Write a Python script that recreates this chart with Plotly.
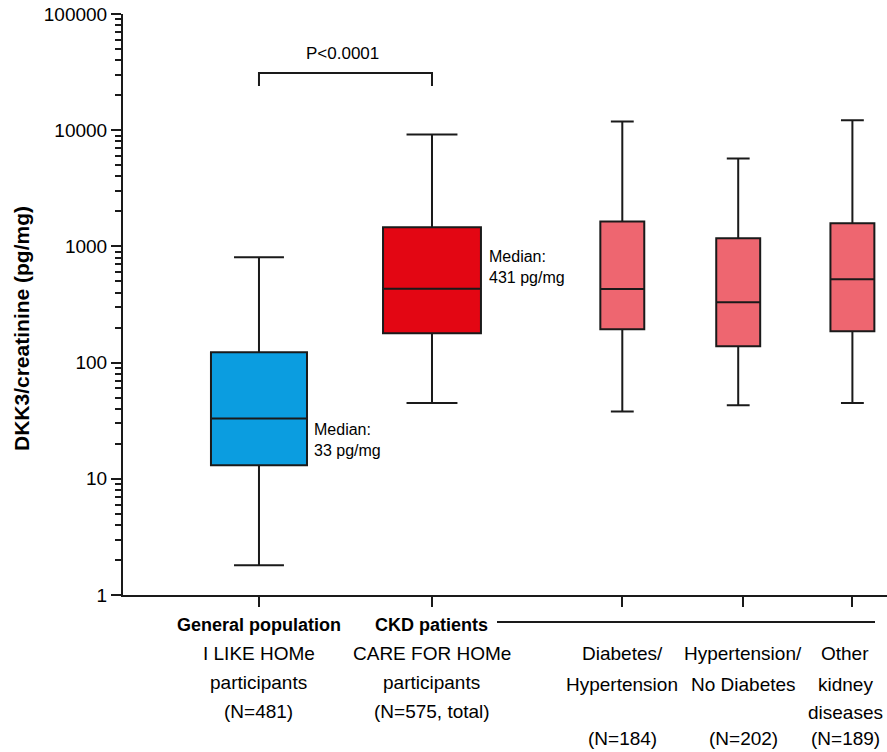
import math
import plotly.graph_objects as go

# ---- data ----
groups = ["General population", "CKD patients", "Diabetes/Hypertension",
          "Hypertension/No Diabetes", "Other kidney diseases"]
positions = [1.0, 2.0, 3.10, 3.77, 4.43]
tick_positions = [1.0, 2.0, 3.10, 3.80, 4.43]
label_positions = [1.0, 2.0, 3.10, 3.80, 4.39]
lower_whisker = [1.8, 45, 38, 43, 45]
q1 = [13.1, 179, 194, 138, 186]
median = [33, 431, 430, 331, 521]
q3 = [123, 1460, 1640, 1175, 1580]
upper_whisker = [806, 9200, 11900, 5720, 12150]
colors = ["#0b9de0", "#e30613", "#ee6670", "#ee6670", "#ee6670"]
box_widths = [0.555, 0.566, 0.254, 0.254, 0.254]

y_tickvals = [1, 10, 100, 1000, 10000, 100000]
y_ticktext = ["1", "10", "100", "1000", "10000", "100000"]
minor_vals = [m * 10 ** e for e in range(5) for m in range(2, 10)]

left_labels = [
    ["<b>General population</b>", "I LIKE HOMe", "participants", "(N=481)"],
    ["<b>CKD patients</b>", "CARE FOR HOMe", "participants", "(N=575, total)"],
]
right_labels = [
    ["Diabetes/", "Hypertension", "", "(N=184)"],
    ["Hypertension/", "No Diabetes", "", "(N=202)"],
    ["Other", "kidney", "diseases", "(N=189)"],
]
p_text = "P<0.0001"
bracket_top = 31000
bracket_bottom = 24000
y_title = "DKK3/creatinine (pg/mg)"

# ---- layout constants ----
W, H = 887, 752
M_L, M_R, M_T, M_B = 123, 0, 14, 157
PLOT_H = H - M_T - M_B
FONT = "Liberation Sans, Arial, Helvetica, sans-serif"
INK = "#1a1a1a"


def ypaper(py):
    return (H - M_B - py) / PLOT_H


def xpaper(px):
    return (px - M_L) / (W - M_L - M_R)


fig = go.Figure()

for i in range(len(groups)):
    fig.add_trace(go.Box(
        x=[positions[i]], q1=[q1[i]], median=[median[i]], q3=[q3[i]],
        lowerfence=[lower_whisker[i]], upperfence=[upper_whisker[i]],
        orientation="v", width=box_widths[i], whiskerwidth=0.52,
        fillcolor=colors[i], line=dict(color=INK, width=2),
        boxpoints=False, showlegend=False, hoverinfo="skip", name=groups[i]))

# significance bracket
fig.add_trace(go.Scatter(
    x=[positions[0], positions[0], positions[1], positions[1]],
    y=[bracket_bottom, bracket_top, bracket_top, bracket_bottom],
    mode="lines", line=dict(color=INK, width=2), showlegend=False,
    hoverinfo="skip", cliponaxis=False))

annotations = []
annotations.append(dict(
    x=(positions[0] + positions[1]) / 2 - 0.02, y=math.log10(bracket_top),
    xref="x", yref="y", text=p_text, showarrow=False, yanchor="bottom",
    yshift=8, font=dict(family=FONT, size=17, color="black")))

# median labels
annotations.append(dict(
    x=positions[0] + 0.305, y=math.log10(median[0]), xref="x", yref="y",
    text=f"Median:<br>{median[0]} pg/mg", showarrow=False, xanchor="left",
    yanchor="top", align="left", font=dict(family=FONT, size=16, color="black")))
annotations.append(dict(
    x=positions[1] + 0.318, y=math.log10(median[1]), xref="x", yref="y",
    text=f"Median:<br>{median[1]} pg/mg", showarrow=False, xanchor="left",
    yanchor="bottom", yshift=1, align="left",
    font=dict(family=FONT, size=16, color="black")))

# category labels
left_rows = [625, 654, 682, 711]
for g, lines in enumerate(left_labels):
    for r, t in enumerate(lines):
        annotations.append(dict(
            x=label_positions[g], y=ypaper(left_rows[r]), xref="x", yref="paper",
            text=t, showarrow=False, yanchor="middle",
            font=dict(family=FONT, size=18 if r == 0 else 19, color="black")))

right_rows = [653, 684, 712, 738]
for k, lines in enumerate(right_labels):
    g = k + 2
    for r, t in enumerate(lines):
        if not t:
            continue
        annotations.append(dict(
            x=label_positions[g], y=ypaper(right_rows[r]), xref="x", yref="paper",
            text=t, showarrow=False, yanchor="middle",
            font=dict(family=FONT, size=19, color="black")))

# y-axis title
annotations.append(dict(
    x=xpaper(21), y=ypaper(329), xref="paper", yref="paper", text=f"<b>{y_title}</b>",
    textangle=-90, showarrow=False, xanchor="center", yanchor="middle",
    font=dict(family=FONT, size=21, color="black")))

shapes = [dict(type="line", xref="paper", yref="paper",
               x0=xpaper(497), x1=xpaper(875), y0=ypaper(622), y1=ypaper(622),
               line=dict(color=INK, width=2))]

fig.update_layout(
    width=W, height=H, margin=dict(l=M_L, r=M_R, t=M_T, b=M_B, pad=0),
    paper_bgcolor="white", plot_bgcolor="white", boxmode="overlay",
    font=dict(family=FONT, color="black"),
    annotations=annotations, shapes=shapes,
    xaxis=dict(range=[0.214, 4.63], tickvals=tick_positions, ticks="outside",
               ticklen=10, tickwidth=2, tickcolor=INK, showticklabels=False,
               showline=True, linewidth=2, linecolor=INK, showgrid=False,
               zeroline=False, fixedrange=True),
    yaxis=dict(type="log", range=[0, 5], tickvals=y_tickvals, ticktext=y_ticktext,
               ticks="outside", ticklen=10, tickwidth=2, tickcolor=INK,
               showline=True, linewidth=2, linecolor=INK, showgrid=False,
               zeroline=False, tickfont=dict(family=FONT, size=19, color="black"),
               minor=dict(ticks="outside", ticklen=6, tickwidth=1.5, tickcolor=INK,
                          tickmode="array", tickvals=minor_vals, showgrid=False)),
)

fig.write_html("out.html")
